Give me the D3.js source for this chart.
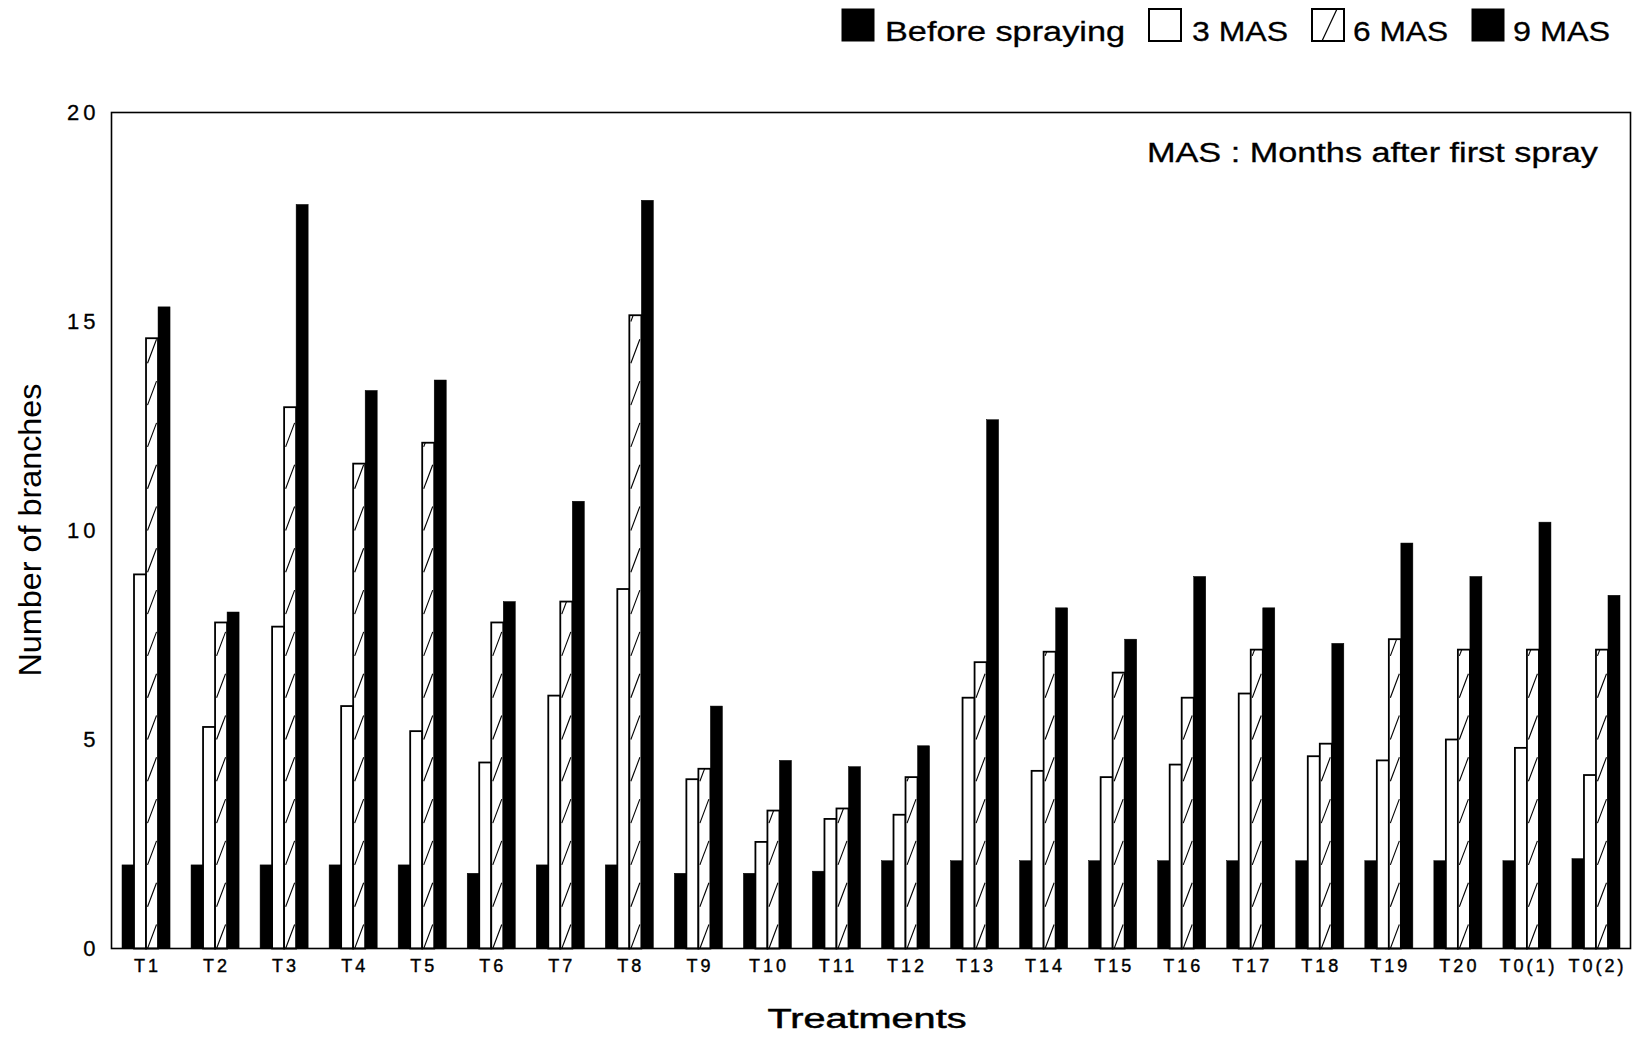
<!DOCTYPE html>
<html>
<head>
<meta charset="utf-8">
<script src="https://cdn.jsdelivr.net/npm/d3@7"></script>
<style>
	body { margin: 0; background: #fff; }
	svg { display: block; font-family: "Liberation Sans", Arial, sans-serif; }
</style>
</head>
<body>
<div id="chart"></div>
<script>
// data
var categories = ["T1", "T2", "T3", "T4", "T5", "T6", "T7", "T8", "T9", "T10", "T11",
	"T12", "T13", "T14", "T15", "T16", "T17", "T18", "T19", "T20", "T0(1)", "T0(2)"];
var seriesNames = ["Before spraying", "3 MAS", "6 MAS", "9 MAS"];
var beforeSpraying = [2.0, 2.0, 2.0, 2.0, 2.0, 1.8, 2.0, 2.0, 1.8, 1.8, 1.85,
	2.1, 2.1, 2.1, 2.1, 2.1, 2.1, 2.1, 2.1, 2.1, 2.1, 2.15];
var mas3 = [8.95, 5.3, 7.7, 5.8, 5.2, 4.45, 6.05, 8.6, 4.05, 2.55, 3.1,
	3.2, 6.0, 4.25, 4.1, 4.4, 6.1, 4.6, 4.5, 5.0, 4.8, 4.15];
var mas6 = [14.6, 7.8, 12.95, 11.6, 12.1, 7.8, 8.3, 15.15, 4.3, 3.3, 3.35,
	4.1, 6.85, 7.1, 6.6, 6.0, 7.15, 4.9, 7.4, 7.15, 7.15, 7.15];
var mas9 = [15.35, 8.05, 17.8, 13.35, 13.6, 8.3, 10.7, 17.9, 5.8, 4.5, 4.35,
	4.85, 12.65, 8.15, 7.4, 8.9, 8.15, 7.3, 9.7, 8.9, 10.2, 8.45];
var yTicks = [0, 5, 10, 15, 20];

var seriesValues = [beforeSpraying, mas3, mas6, mas9];

var width = 1636, height = 1038;
var plot = { left: 111.5, right: 1630.5, top: 112.5, bottom: 948.5 };

var svg = d3.select("#chart").append("svg")
	.attr("width", width)
	.attr("height", height);

var x0 = d3.scaleBand()
	.domain(categories)
	.range([plot.left, plot.right])
	.paddingInner(0.304)
	.paddingOuter(0.152);

var x1 = d3.scaleBand()
	.domain(seriesNames)
	.range([0, x0.bandwidth()]);

var y = d3.scaleLinear()
	.domain([0, 20])
	.range([plot.bottom, plot.top]);

// style per series
var fills = ["#000", "#fff", "#fff", "#000"];

// flatten to bar records
var bars = [];
categories.forEach(function(c, i) {
	seriesNames.forEach(function(s, j) {
		bars.push({ cat: c, series: s, idx: j, value: seriesValues[j][i] });
	});
});

var defs = svg.append("defs");

// bars
var gBars = svg.append("g").attr("class", "bars");
gBars.selectAll("rect")
	.data(bars).enter()
	.append("rect")
		.attr("x", function(d) { return x0(d.cat) + x1(d.series); })
		.attr("y", function(d) { return y(d.value); })
		.attr("width", x1.bandwidth())
		.attr("height", function(d) { return y(0) - y(d.value); })
		.attr("fill", function(d) { return fills[d.idx]; })
		.attr("stroke", "#000")
		.attr("stroke-width", function(d) { return d.idx == 1 || d.idx == 2 ? 1.8 : 0.5; });

// hatching for 6 MAS bars, drawn per bar and clipped
var period = y(0) - y(1);
var rise = 24;
var hatched = bars.filter(function(d) { return d.idx == 2; });
hatched.forEach(function(d, i) {
	var bx = x0(d.cat) + x1(d.series), bw = x1.bandwidth();
	var top = y(d.value), bot = y(0);
	defs.append("clipPath")
		.attr("id", "hclip-" + i)
		.append("rect")
			.attr("x", bx).attr("y", top)
			.attr("width", bw).attr("height", bot - top);
	var segs = [];
	for(var yy = bot; yy > top - rise; yy -= period) { segs.push(yy); }
	gBars.append("g")
		.attr("clip-path", "url(#hclip-" + i + ")")
		.selectAll("line")
		.data(segs).enter()
		.append("line")
			.attr("x1", bx + 1.5)
			.attr("y1", function(s) { return s; })
			.attr("x2", bx + bw - 1.5)
			.attr("y2", function(s) { return s - rise; })
			.attr("stroke", "#000")
			.attr("stroke-width", 1.1);
});

// frame
svg.append("rect")
	.attr("x", plot.left)
	.attr("y", y(20))
	.attr("width", plot.right - plot.left)
	.attr("height", y(0) - y(20))
	.attr("fill", "none")
	.attr("stroke", "#000")
	.attr("stroke-width", 1.6);

// y axis labels
var yAxis = d3.axisLeft(y).tickValues(yTicks).tickSize(0).tickPadding(16);
svg.append("g")
	.attr("transform", "translate(" + plot.left + ",0)")
	.call(yAxis)
	.call(function(g) { g.select(".domain").remove(); })
	.selectAll("text")
		.attr("font-family", "Liberation Sans, Arial, sans-serif")
		.attr("font-size", 22)
		.attr("letter-spacing", 4)
		.attr("dx", 4)
		.attr("fill", "#000")
		.attr("stroke", "#000")
		.attr("stroke-width", 0.3);

// x axis labels
var xAxis = d3.axisBottom(x0).tickSize(0).tickPadding(11);
svg.append("g")
	.attr("transform", "translate(0," + plot.bottom + ")")
	.call(xAxis)
	.call(function(g) { g.select(".domain").remove(); })
	.selectAll("text")
		.attr("font-family", "Liberation Sans, Arial, sans-serif")
		.attr("font-size", 18)
		.attr("letter-spacing", 3)
		.attr("dx", 1.5)
		.attr("fill", "#000")
		.attr("stroke", "#000")
		.attr("stroke-width", 0.4);

// axis titles
svg.append("text")
	.attr("x", 867)
	.attr("y", 1028)
	.attr("text-anchor", "middle")
	.attr("font-size", 27)
	.attr("textLength", 199)
	.attr("lengthAdjust", "spacingAndGlyphs")
	.attr("stroke", "#000")
	.attr("stroke-width", 0.5)
	.text("Treatments");

svg.append("text")
	.attr("transform", "translate(41,530) rotate(-90)")
	.attr("text-anchor", "middle")
	.attr("font-size", 32)
	.attr("textLength", 293)
	.attr("lengthAdjust", "spacingAndGlyphs")
	.text("Number of branches");

// note
svg.append("text")
	.attr("x", 1147)
	.attr("y", 162)
	.attr("font-size", 27)
	.attr("textLength", 451)
	.attr("lengthAdjust", "spacingAndGlyphs")
	.attr("stroke", "#000")
	.attr("stroke-width", 0.3)
	.text("MAS : Months after first spray");

// legend
var legendItems = [
	{ name: seriesNames[0], box: 842, tx: 885, tw: 240 },
	{ name: seriesNames[1], box: 1149, tx: 1192, tw: 96 },
	{ name: seriesNames[2], box: 1312, tx: 1353, tw: 95 },
	{ name: seriesNames[3], box: 1472, tx: 1513, tw: 97 }
];
var legend = svg.append("g").attr("class", "legend");
legendItems.forEach(function(it, j) {
	legend.append("rect")
		.attr("x", it.box)
		.attr("y", 9)
		.attr("width", 32)
		.attr("height", 32)
		.attr("fill", fills[j])
		.attr("stroke", "#000")
		.attr("stroke-width", j == 1 || j == 2 ? 2 : 1);
	if(j == 2) {
		legend.append("line")
			.attr("x1", it.box + 10).attr("y1", 41)
			.attr("x2", it.box + 25).attr("y2", 9)
			.attr("stroke", "#000")
			.attr("stroke-width", 1.2);
	}
	legend.append("text")
		.attr("x", it.tx)
		.attr("y", 41)
		.attr("font-size", 27)
		.attr("textLength", it.tw)
		.attr("lengthAdjust", "spacingAndGlyphs")
		.attr("stroke", "#000")
		.attr("stroke-width", 0.3)
		.text(it.name);
});
</script>
</body>
</html>
